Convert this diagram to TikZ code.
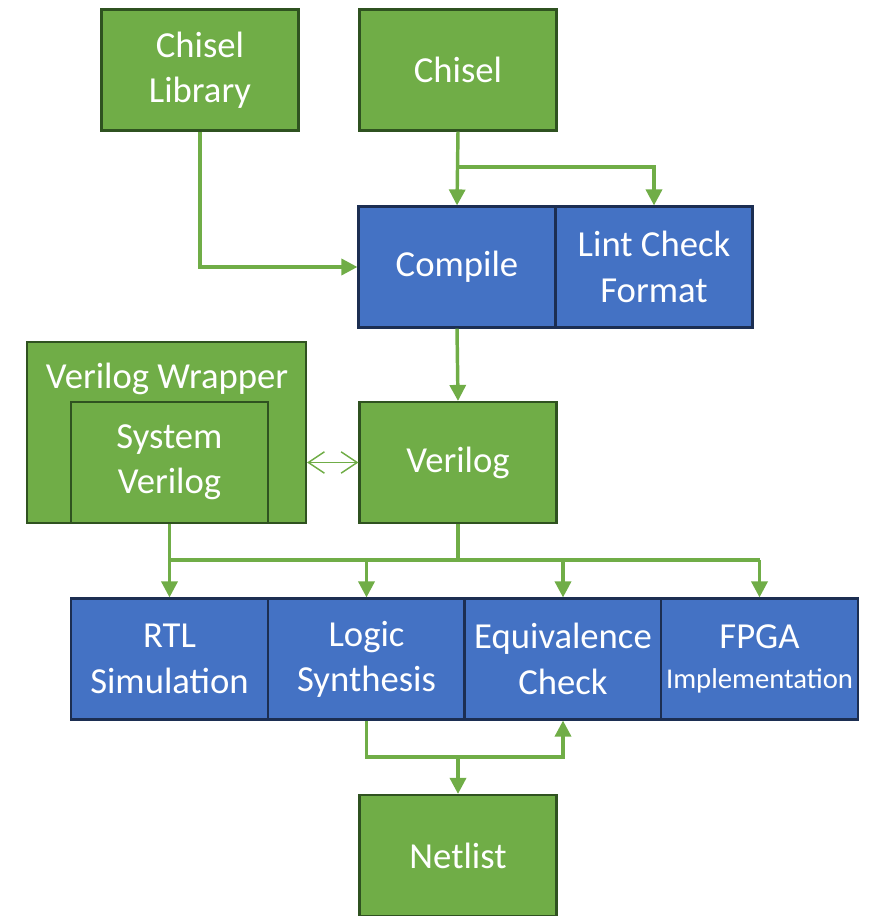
\documentclass[tikz,border=0pt]{standalone}
\usepackage{fontspec}
\setmainfont{Carlito}
\usetikzlibrary{arrows.meta}
\definecolor{gfill}{HTML}{70AD47}
\definecolor{gline}{HTML}{2F5220}
\definecolor{bfill}{HTML}{4472C4}
\definecolor{bline}{HTML}{1C2E52}
\definecolor{wire}{HTML}{70AD47}
\begin{document}
\begin{tikzpicture}[x=0.75pt,y=-0.75pt,
  box/.style={rectangle, inner sep=0pt, line width=1.6pt, text=white,
    align=center, font=\fontsize{27.5}{34}\selectfont,
    minimum width=147.75pt, minimum height=90.75pt},
  gbox/.style={box, fill=gfill, draw=gline},
  bbox/.style={box, fill=bfill, draw=bline},
  conn/.style={draw=wire, line width=2.6pt,
    -{Triangle[length=12pt,width=12pt]}},
  wireline/.style={draw=wire, line width=2.6pt},
  link/.style={draw=wire, line width=1.1pt,
    {Straight Barb[length=12pt,width=16pt]}-{Straight Barb[length=12pt,width=16pt]}}]
\useasboundingbox (0,0) rectangle (872,916);

% sources
\node[gbox] (lib)    at (200,70)  {Chisel\\Library};
\node[gbox] (chisel) at (458,70)  {Chisel};

% compile stage
\node[bbox] (compile) at (457,267) {Compile};
\node[bbox] (lint)    at (654,267) {Lint Check\\Format};

% verilog wrapper and generated verilog
\node[gbox, minimum width=209.25pt, minimum height=135.75pt] (wrap) at (166.5,432.5) {};
\node[text=white, font=\fontsize{27.5}{34}\selectfont, inner sep=0pt] (wraptitle) at (167,379) {Verilog Wrapper};
\node[gbox] (sv) at (169.5,462.5) {System\\Verilog};
\node[gbox] (verilog) at (458,462.5) {Verilog};

% back-end flows
\node[bbox] (rtl)   at (169.5,659) {RTL\\Simulation};
\node[bbox] (synth) at (366.5,659) {Logic\\Synthesis};
\node[bbox] (equiv) at (563,659)   {Equivalence\\Check};
\node[bbox] (fpga)  at (759.5,659) {FPGA\\[-4pt]{\fontsize{21.5}{26}\selectfont Implementation}};

% netlist
\node[gbox] (netlist) at (458,855.5) {Netlist};

% junction points
\coordinate (j1) at (458,167);
\coordinate (j2) at (458,560);
\coordinate (j3) at (458,757);

% front-end connections
\draw[conn] (lib.south) |- (compile.west);
\draw[conn] (chisel.south) -- (compile.north);
\draw[conn] (j1) -| (lint.north);
\draw[conn] (compile.south) -- (verilog.north);
\draw[link] (wrap.east |- verilog.west) -- (verilog.west);

% fan-out to the back-end flows
\draw[wireline] (verilog.south) -- (j2);
\draw[conn] (sv.south) -- (rtl.north);
\draw[wireline] (rtl.north |- j2) -- (fpga.north |- j2);
\draw[conn] (synth.north |- j2) -- (synth.north);
\draw[conn] (equiv.north |- j2) -- (equiv.north);
\draw[conn] (fpga.north |- j2) -- (fpga.north);

% synthesis to netlist and equivalence check
\draw[wireline] (synth.south) |- (j3);
\draw[conn] (j3) -| (equiv.south);
\draw[conn] (j3) -- (netlist.north);
\end{tikzpicture}
\end{document}
